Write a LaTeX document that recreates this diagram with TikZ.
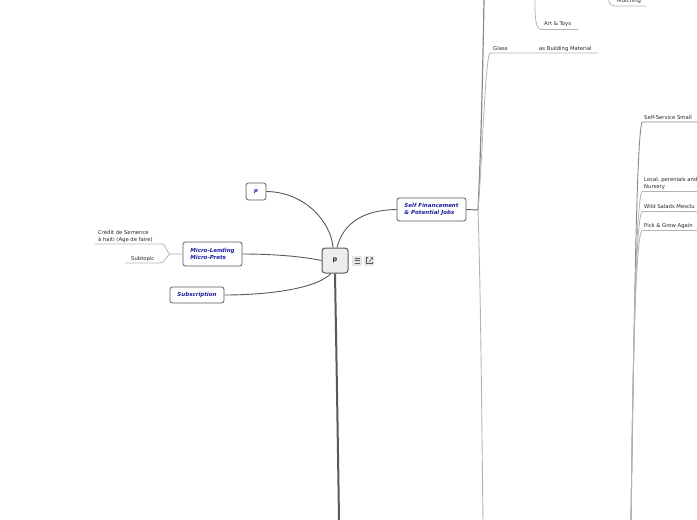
\documentclass[tikz,border=0pt]{standalone}
\usepackage{fontspec}
\setmainfont{DejaVu Sans}
\definecolor{linedark}{HTML}{555A5E}
\definecolor{linelight}{HTML}{B4B4B4}
\definecolor{linemid}{HTML}{8A8A8A}
\definecolor{topicblue}{HTML}{1E1EA0}
\definecolor{textgray}{HTML}{262626}
\begin{document}
\begin{tikzpicture}[x=1pt,y=-1pt,
  topicbox/.style={draw=linedark, line width=0.8pt, rounded corners=2.5pt, fill=white,
    inner sep=0pt, align=left, font=\fontsize{5.5}{6.3}\selectfont\bfseries\itshape, text=topicblue},
  centralbox/.style={draw=linedark, line width=1pt, rounded corners=3pt, fill=gray!14,
    inner sep=0pt, font=\fontsize{6.5}{7}\selectfont\bfseries, text=textgray},
  subtext/.style={inner sep=0pt, anchor=base west, align=left, font=\fontsize{5.3}{6.2}\selectfont, text=textgray},
  mainline/.style={draw=linedark, line width=0.9pt},
  subline/.style={draw=linelight, line width=0.8pt},
  iconbox/.style={fill=gray!20, draw=none, minimum size=10pt, inner sep=0pt}
]
\useasboundingbox (0,0) rectangle (697,520);
\clip (0,0) rectangle (697,520);

% ---- main nodes
\node[centralbox, minimum width=26pt, minimum height=25pt] (c) at (335,260.5) {p};
\node[topicbox, minimum width=20pt, minimum height=17pt, align=center] (p2) at (256,191.5) {p};
\node[topicbox, minimum width=59pt, minimum height=24pt] (micro) at (212.5,254) {Micro-Lending\\Micro-Prets};
\node[topicbox, minimum width=54pt, minimum height=16pt, align=center] (subs) at (197,295) {Subscription};
\node[topicbox, minimum width=69pt, minimum height=23pt] (sf) at (431.5,209.5) {Self Financement\\\& Potential Jobs};

% ---- icons beside central node
\node[iconbox] (ic1) at (357,260.5) {};
\node[iconbox] (ic2) at (369,260.5) {};
\draw[linedark, line width=0.5pt] (354.5,258) -- (359.5,258) (354.5,260.5) -- (359.5,260.5) (354.5,263) -- (359.5,263);
\draw[linedark, line width=0.5pt] (368,257.5) -- (366.5,257.5) -- (366.5,263.5) -- (372.5,263.5) -- (372.5,262);
\draw[linedark, line width=0.5pt] (369,262) -- (372.5,257.5) (370.5,257.5) -- (372.5,257.5) -- (372.5,259.5);

% ---- connectors from central node
\coordinate (cbot) at (339,520);
\draw[mainline] ([xshift=-2pt]c.north) .. controls (331,222) and (305,192) .. (p2.east);
\draw[mainline] ([xshift=2pt]c.north) .. controls (343,224) and (362,210) .. (sf.west);
\draw[mainline] (c.west) .. controls (300,256) and (270,254) .. (micro.east);
\draw[mainline] ([xshift=-4pt]c.south) .. controls (315,290) and (262,295) .. (subs.east);
\draw[draw=linedark, line width=2pt] (c.south) .. controls (336.5,360) and (338,450) .. (cbot);

% ---- Micro-Lending subtopics
\coordinate (mj) at (170,254);
\node[subtext] (cred) at (98,241) {Crédit de Semence\\à haiti (Age de faire)};
\node[subtext] (subt) at (131,260) {Subtopic};
\draw[subline] (micro.west) -- (mj) .. controls (166,252) and (166,244) .. (162,244) -- (95,244);
\draw[subline] (mj) .. controls (166,256) and (165,263) .. (160,263) -- (125,263);

% ---- Self Financement branches
\coordinate (sfj) at (478,210);
\coordinate (sftop) at (484,0);
\coordinate (sfbot) at (483,520);
\draw[draw=linedark, line width=0.9pt] (sf.east) -- (sfj);
\draw[draw=linemid, line width=1.2pt] (sfj) .. controls (481,150) and (483,60) .. (sftop);
\draw[draw=linelight, line width=0.9pt] (sfj) .. controls (481,300) and (482,450) .. (sfbot);
\node[subtext] (glass) at (493,50) {Glass};
\node[subtext] (build) at (539,50) {as Building Material};
\draw[subline] (sfj) .. controls (483,150) and (485,60) .. (490,53) -- (598,53);

% ---- top sub-branches
\node[subtext] (art) at (544,25.5) {Art \& Toys};
\draw[subline] (535,0) .. controls (535,15) and (535,29) .. (541,29.5) -- (578,29.5);
\node[subtext] (mulch) at (617,2.5) {Mulching};
\draw[subline] (608,-8) .. controls (608,0) and (609,6) .. (614,6) -- (646,6);

% ---- right branches
\coordinate (rbot) at (631,520);
\node[subtext] (self) at (644,119) {Self-Service Small};
\node[subtext] (local) at (644,188) {Local, perenials and\\Nursery};
\node[subtext] (wild) at (644,208) {Wild Salads Mesclu};
\node[subtext] (pick) at (644,227) {Pick \& Grow Again};
\draw[draw=linemid, line width=0.9pt] (rbot) .. controls (634,350) and (636,140) .. (642,122) -- (697,122);
\draw[subline] (rbot) .. controls (633,350) and (636,200) .. (642,191.5) -- (697,191.5);
\draw[subline] (rbot) .. controls (633,350) and (636,218) .. (642,211.5) -- (697,211.5);
\draw[subline] (rbot) .. controls (633,350) and (636,236) .. (642,230.5) -- (697,230.5);
\end{tikzpicture}
\end{document}
